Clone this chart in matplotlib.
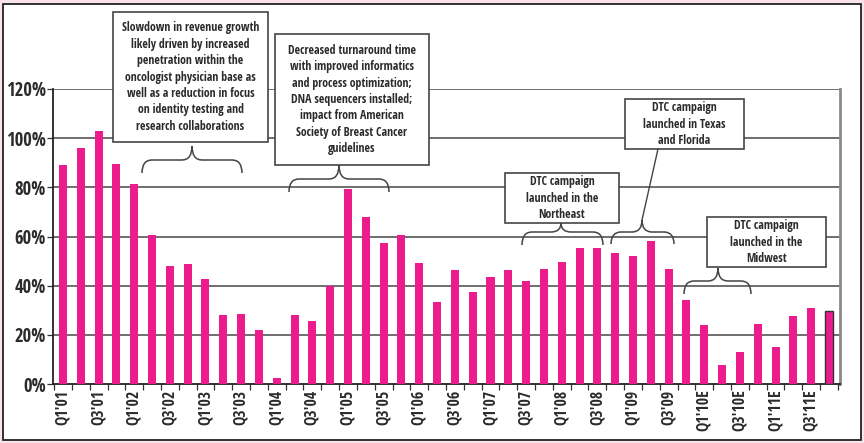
"""
Quarterly revenue growth bar chart with annotated campaign / process events.
"""
import numpy as np
import matplotlib
matplotlib.use("Agg")
import matplotlib.pyplot as plt
from matplotlib import font_manager as fm
from matplotlib.textpath import TextToPath
from matplotlib.patches import Rectangle, PathPatch
from matplotlib.path import Path

DPI = 100
ttp = TextToPath()


def wnum(w):
    if isinstance(w, (int, float)):
        return w
    return {"bold": 700, "heavy": 800, "black": 900, "semibold": 600,
            "demibold": 600, "extra bold": 800}.get(str(w).lower(), 400)


def text_px(s, prop):
    w, h, d = ttp.get_text_width_height_descent(s, prop, ismath=False)
    return w * DPI / 72, h * DPI / 72, d * DPI / 72


# the original uses a condensed bold sans face: pick the bold sans whose
# proportions come closest (sample line ~160 px wide at 10 pt)
SAMPLE = "Slowdown in revenue growth"
SANS = ("Liberation Sans", "DejaVu Sans", "Noto Sans", "Roboto", "Open Sans",
        "Lato", "Inter")
cands = [f for f in fm.fontManager.ttflist
         if 600 <= wnum(f.weight) <= 800 and f.style == "normal"
         and f.name.startswith(SANS)
         and "Mono" not in f.name and "CJK" not in f.name]
best, best_err = None, 1e9
for f in cands:
    try:
        w = text_px(SAMPLE, fm.FontProperties(fname=f.fname, size=10))[0]
    except Exception:
        continue
    if abs(w - 160) < best_err:
        best, best_err = f, abs(w - 160)


def fp(size):
    if best is not None:
        return fm.FontProperties(fname=best.fname, size=size)
    return fm.FontProperties(family="DejaVu Sans", weight="bold", size=size)


def fit_size(s, target_px, s0=10.0):
    return s0 * target_px / text_px(s, fp(s0))[0]


# year-over-year growth, Q1'01 .. Q4'11E (%)
growth = [89.2, 96.2, 103.0, 89.5, 81.2, 60.8, 47.8, 49.0, 42.8, 28.1, 28.5,
          21.9, 2.6, 28.2, 25.8, 40.0, 79.3, 68.1, 57.4, 60.7, 49.4, 33.5,
          46.3, 37.6, 43.4, 46.2, 41.7, 46.7, 49.5, 55.5, 55.5, 53.2, 52.1,
          58.2, 46.7, 34.2, 24.2, 7.7, 13.0, 24.4, 15.2, 27.7, 30.9, 29.7]

tick_labels = ["Q1'01", "Q3'01", "Q1'02", "Q3'02", "Q1'03", "Q3'03", "Q1'04",
               "Q3'04", "Q1'05", "Q3'05", "Q1'06", "Q3'06", "Q1'07", "Q3'07",
               "Q1'08", "Q3'08", "Q1'09", "Q3'09", "Q1'10E", "Q3'10E",
               "Q1'11E", "Q3'11E"]

y_ticks = [0, 20, 40, 60, 80, 100, 120]

notes = [
    "Slowdown in revenue growth\nlikely driven by increased\npenetration within the\n"
    "oncologist physician base as\nwell as a reduction in focus\n"
    "on identity testing and\nresearch collaborations",
    "Decreased turnaround time\nwith improved informatics\nand process optimization;\n"
    "DNA sequencers installed;\nimpact from American\nSociety of Breast Cancer\nguidelines",
    "DTC campaign\nlaunched in the\nNortheast",
    "DTC campaign\nlaunched in Texas\nand Florida",
    "DTC campaign\nlaunched in the\nMidwest",
]

PINK = "#EC1C8C"
GRID = "#555555"
TXT = "#2b2b2b"

# text sizes fitted to the widths measured on the original
note_fs = fit_size(SAMPLE, 138)
ytick_fs = fit_size("120%", 40)
xtick_fs = fit_size("Q1'01", 35)
# matplotlib line pitch = (lp_h - lp_d) * linespacing + lp_d ; aim for 15 px
_, lp_h, lp_d = text_px("lp", fp(note_fs))
note_ls = max(0.8, (15.0 - lp_d) / (lp_h - lp_d))

W, H = 864, 443
fig = plt.figure(figsize=(W / DPI, H / DPI), dpi=DPI, facecolor="#FBE3EC")

# white panel with dark frame
fig.patches.append(Rectangle((3 / W, 3 / H), 858 / W, 436 / H,
                             transform=fig.transFigure, facecolor="white",
                             edgecolor="#222222", lw=1.3, zorder=-10))

ax = fig.add_axes([53 / W, 1 - 384 / H, 787 / W, 295 / H])
ax.set_facecolor("white")
x = np.arange(len(growth))
bars = ax.bar(x, growth, width=0.45, color=PINK, zorder=3)
bars[-1].set_edgecolor("#333333")
bars[-1].set_linewidth(1.0)

ax.set_xlim(-0.56, 43.62)
ax.set_ylim(0, 120)
ax.set_yticks(y_ticks)
ax.set_yticklabels([f"{v}%" for v in y_ticks], fontproperties=fp(ytick_fs),
                   color=TXT)
for v in y_ticks[1:]:
    ax.axhline(v, color=GRID, lw=1.2, zorder=1)

ax.set_xticks(x[::2])
ax.set_xticklabels(tick_labels, rotation=90, fontproperties=fp(xtick_fs),
                   color=TXT)
ax.set_xticks(np.arange(len(growth) + 1) - 0.5, minor=True)
ax.tick_params(axis="x", which="major", length=0, pad=4)
ax.tick_params(axis="x", which="minor", length=4, width=0.9, color="#333333")
ax.tick_params(axis="y", length=4, width=0.9, color="#333333", pad=1)

ax.spines["top"].set_visible(False)
ax.spines["left"].set_color("#222222")
ax.spines["left"].set_linewidth(1.3)
ax.spines["bottom"].set_color("#222222")
ax.spines["bottom"].set_linewidth(1.3)
ax.spines["right"].set_color("#8a8a8a")
ax.spines["right"].set_linewidth(2.0)

# overlay in pixel coordinates for callouts
ov = fig.add_axes([0, 0, 1, 1], facecolor="none")
ov.set_xlim(0, W)
ov.set_ylim(H, 0)
ov.axis("off")


def brace(x0, x1, y, xc, d=13, h=13, r=10):
    verts = [(x0, y + d), (x0, y), (x0 + r, y), (xc - r, y), (xc, y), (xc, y - h),
             (xc, y), (xc + r, y), (x1 - r, y), (x1, y), (x1, y + d)]
    codes = [Path.MOVETO, Path.CURVE3, Path.CURVE3, Path.LINETO, Path.CURVE3,
             Path.CURVE3, Path.CURVE3, Path.CURVE3, Path.LINETO, Path.CURVE3,
             Path.CURVE3]
    ov.add_patch(PathPatch(Path(verts, codes), facecolor="none",
                           edgecolor="#444444", lw=1.1))


def callout(text, x0, x1, y0, y1):
    ov.add_patch(Rectangle((x0, y0), x1 - x0, y1 - y0, facecolor="white",
                           edgecolor="#444444", lw=1.2, zorder=2))
    ov.text((x0 + x1) / 2, (y0 + y1) / 2, text, ha="center", va="center",
            fontproperties=fp(note_fs), color=TXT, linespacing=note_ls,
            zorder=3)


callout(notes[0], 113, 268, 12, 142)
brace(142, 242, 160, 192, d=13, h=14)

callout(notes[1], 275, 429, 34, 165)
brace(289, 389, 179, 339, d=13, h=14)

callout(notes[2], 505, 619, 173, 223)
brace(522, 603, 232, 561, d=13, h=9)

callout(notes[3], 625, 744, 99, 149)
brace(611, 674, 232, 642, d=12, h=12)
ov.plot([642, 658], [220, 149], color="#444444", lw=1.0)

callout(notes[4], 707, 826, 217, 267)
brace(684, 751, 281, 718, d=13, h=13)

fig.savefig("out.png", dpi=DPI, facecolor=fig.get_facecolor())
